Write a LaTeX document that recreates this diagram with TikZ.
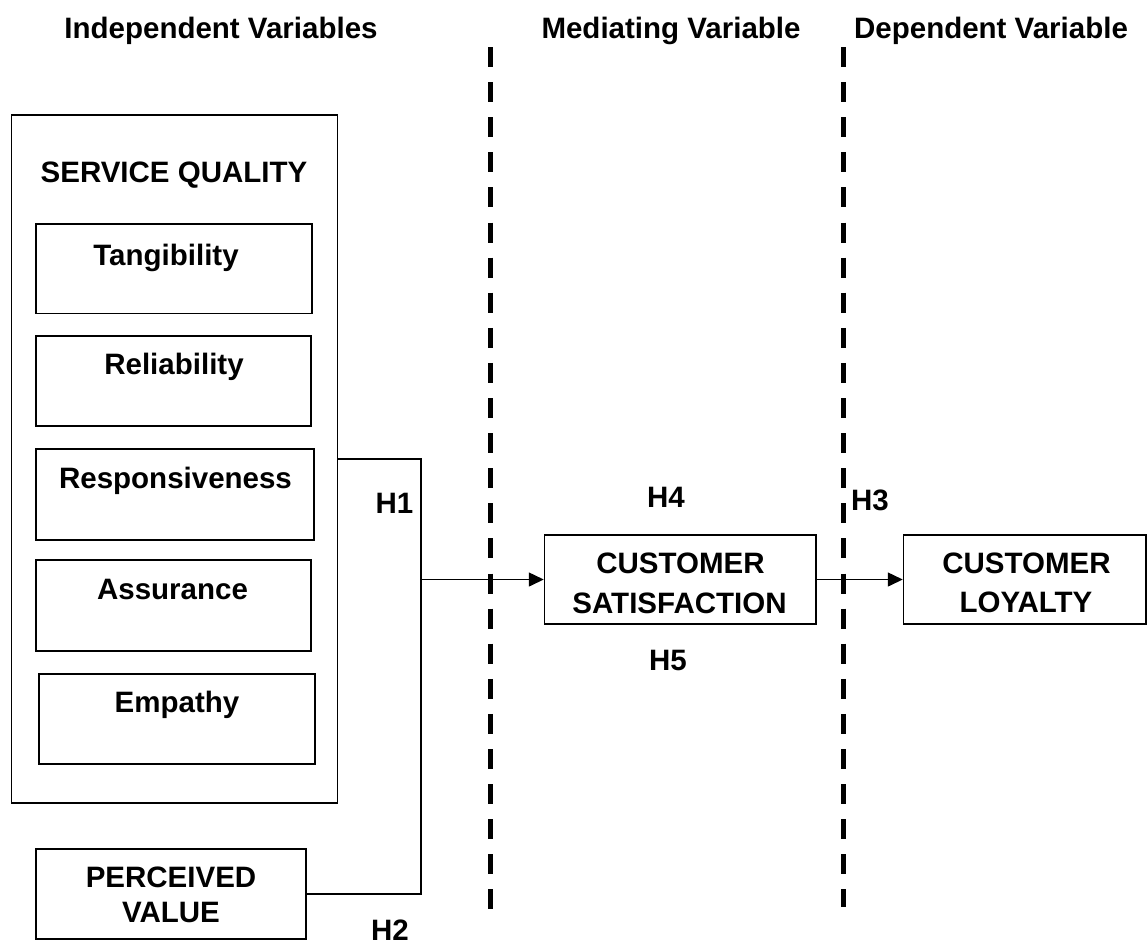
\documentclass[tikz,border=0pt]{standalone}
\usepackage{fontspec}
\setmainfont{Liberation Sans}
\usetikzlibrary{arrows.meta}
\tikzset{
  box/.style={draw=black, line width=1.5pt, rectangle, inner sep=0pt},
  txt/.style={anchor=base, inner sep=0pt, font=\bfseries\fontsize{29.5}{40}\selectfont},
  conn/.style={draw=black, line width=1.5pt},
  arr/.style={conn, -{Triangle[length=15pt,width=14pt]}},
  divider/.style={draw=black, line width=5pt, dash pattern=on 20pt off 15.1pt}
}
\begin{document}
\begin{tikzpicture}[x=1pt,y=-1pt]
\useasboundingbox (0,0) rectangle (1147,946);
% headers
\node[txt] (hind) at (221,38) {Independent Variables};
\node[txt] (hmed) at (671,38) {Mediating Variable};
\node[txt] (hdep) at (991,38) {Dependent Variable};
% dividers
\coordinate (d1a) at (490.5,47);
\coordinate (d1b) at (490.5,909);
\coordinate (d2a) at (843,47);
\coordinate (d2b) at (843,907);
\draw[divider] (d1a) -- (d1b);
\draw[divider] (d2a) -- (d2b);
% service quality block
\node[box, minimum width=326pt, minimum height=688pt] (sq) at (174.5,459) {};
\node[txt] (sqt) at (174,182) {SERVICE QUALITY};
\node[box, minimum width=276pt, minimum height=89.5pt] (tang) at (174,268.75) {};
\node[txt] (tangt) at (166,265) {Tangibility};
\node[box, minimum width=275pt, minimum height=90pt] (rel) at (173.5,381) {};
\node[txt] (relt) at (174,374) {Reliability};
\node[box, minimum width=278pt, minimum height=91pt] (resp) at (175,494.5) {};
\node[txt] (respt) at (175.5,488) {Responsiveness};
\node[box, minimum width=275pt, minimum height=91pt] (assu) at (173.5,605.5) {};
\node[txt] (assut) at (172.5,599) {Assurance};
\node[box, minimum width=276pt, minimum height=90pt] (emp) at (177,719) {};
\node[txt] (empt) at (177,712) {Empathy};
% perceived value
\node[box, minimum width=270pt, minimum height=90pt] (pv) at (171,894) {};
\node[txt] (pvt1) at (171,887) {PERCEIVED};
\node[txt] (pvt2) at (171,922) {VALUE};
% customer satisfaction
\node[box, minimum width=271.5pt, minimum height=89pt] (cs) at (680.25,579.5) {};
\node[txt] (cst1) at (680.5,573) {CUSTOMER};
\node[txt] (cst2) at (679.5,613) {SATISFACTION};
% customer loyalty
\node[box, minimum width=242.5pt, minimum height=89pt] (cl) at (1024.75,579.5) {};
\node[txt] (clt1) at (1026.5,573) {CUSTOMER};
\node[txt] (clt2) at (1026,612) {LOYALTY};
% connectors
\coordinate (jn) at (421,579.5);
\draw[conn] (sq.east) -| (jn) |- (pv.east);
\draw[arr] (jn) -- (cs.west);
\draw[arr] (cs.east) -- (cl.west);
% hypothesis labels
\node[txt] (h1) at (394.5,513) {H1};
\node[txt] (h2) at (390,940) {H2};
\node[txt] (h3) at (870,510) {H3};
\node[txt] (h4) at (666,507) {H4};
\node[txt] (h5) at (668,670) {H5};
\end{tikzpicture}
\end{document}
